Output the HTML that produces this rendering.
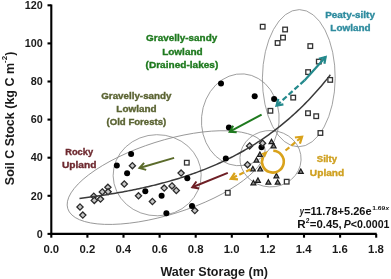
<!DOCTYPE html>
<html><head><meta charset="utf-8"><style>
html,body{margin:0;padding:0;background:#fff;width:391px;height:279px;overflow:hidden}
svg{display:block;will-change:transform}
text{font-family:"Liberation Sans",sans-serif}
</style></head><body>
<svg width="391" height="279" viewBox="0 0 391 279">
<rect width="391" height="279" fill="#fff"/>
<ellipse cx="166.1" cy="177.58" rx="103.12" ry="36.78" transform="rotate(-17.55 166.1 177.58)" fill="none" stroke="#8a8a8a" stroke-width="0.8"/>
<ellipse cx="157.16" cy="175.24" rx="44.03" ry="40.57" transform="rotate(-0.78 157.16 175.24)" fill="none" stroke="#8a8a8a" stroke-width="0.8"/>
<ellipse cx="240.3" cy="119.8" rx="46.0" ry="38.8" transform="rotate(-85.2 240.3 119.8)" fill="none" stroke="#8a8a8a" stroke-width="0.8"/>
<ellipse cx="270.5" cy="158.7" rx="30.6" ry="28.2" transform="rotate(2.5 270.5 158.7)" fill="none" stroke="#8a8a8a" stroke-width="0.8"/>
<ellipse cx="298.8" cy="78.2" rx="68.6" ry="36.4" transform="rotate(-89.5 298.8 78.2)" fill="none" stroke="#8a8a8a" stroke-width="0.8"/>
<polygon points="80.00,203.90 83.10,207.00 80.00,210.10 76.90,207.00" fill="#c8c8c8" stroke="#2a2a2a" stroke-width="1.3"/>
<polygon points="82.80,212.00 85.90,215.10 82.80,218.20 79.70,215.10" fill="#c8c8c8" stroke="#2a2a2a" stroke-width="1.3"/>
<polygon points="93.80,193.10 96.90,196.20 93.80,199.30 90.70,196.20" fill="#c8c8c8" stroke="#2a2a2a" stroke-width="1.3"/>
<polygon points="94.30,197.30 97.40,200.40 94.30,203.50 91.20,200.40" fill="#c8c8c8" stroke="#2a2a2a" stroke-width="1.3"/>
<polygon points="100.50,196.00 103.60,199.10 100.50,202.20 97.40,199.10" fill="#c8c8c8" stroke="#2a2a2a" stroke-width="1.3"/>
<polygon points="102.30,188.80 105.40,191.90 102.30,195.00 99.20,191.90" fill="#c8c8c8" stroke="#2a2a2a" stroke-width="1.3"/>
<polygon points="107.90,184.20 111.00,187.30 107.90,190.40 104.80,187.30" fill="#c8c8c8" stroke="#2a2a2a" stroke-width="1.3"/>
<polygon points="108.10,188.70 111.20,191.80 108.10,194.90 105.00,191.80" fill="#c8c8c8" stroke="#2a2a2a" stroke-width="1.3"/>
<polygon points="124.30,180.90 127.40,184.00 124.30,187.10 121.20,184.00" fill="#c8c8c8" stroke="#2a2a2a" stroke-width="1.3"/>
<polygon points="132.40,162.60 135.50,165.70 132.40,168.80 129.30,165.70" fill="#c8c8c8" stroke="#2a2a2a" stroke-width="1.3"/>
<polygon points="138.50,192.70 141.60,195.80 138.50,198.90 135.40,195.80" fill="#c8c8c8" stroke="#2a2a2a" stroke-width="1.3"/>
<polygon points="152.40,198.40 155.50,201.50 152.40,204.60 149.30,201.50" fill="#c8c8c8" stroke="#2a2a2a" stroke-width="1.3"/>
<polygon points="164.20,185.00 167.30,188.10 164.20,191.20 161.10,188.10" fill="#c8c8c8" stroke="#2a2a2a" stroke-width="1.3"/>
<polygon points="172.00,182.80 175.10,185.90 172.00,189.00 168.90,185.90" fill="#c8c8c8" stroke="#2a2a2a" stroke-width="1.3"/>
<polygon points="176.30,187.40 179.40,190.50 176.30,193.60 173.20,190.50" fill="#c8c8c8" stroke="#2a2a2a" stroke-width="1.3"/>
<polygon points="181.10,170.00 184.20,173.10 181.10,176.20 178.00,173.10" fill="#c8c8c8" stroke="#2a2a2a" stroke-width="1.3"/>
<polygon points="194.80,207.50 197.90,210.60 194.80,213.70 191.70,210.60" fill="#c8c8c8" stroke="#2a2a2a" stroke-width="1.3"/>
<polygon points="249.60,142.80 252.70,145.90 249.60,149.00 246.50,145.90" fill="#c8c8c8" stroke="#2a2a2a" stroke-width="1.3"/>
<polygon points="247.50,161.60 250.60,164.70 247.50,167.80 244.40,164.70" fill="#c8c8c8" stroke="#2a2a2a" stroke-width="1.3"/>
<polyline points="79.46,198.42 81.26,198.19 83.07,197.97 84.87,197.74 86.68,197.50 88.48,197.27 90.29,197.02 92.09,196.78 93.90,196.53 95.70,196.27 97.51,196.01 99.31,195.75 101.12,195.48 102.92,195.21 104.73,194.93 106.53,194.65 108.34,194.37 110.14,194.08 111.95,193.78 113.75,193.48 115.56,193.17 117.36,192.86 119.17,192.54 120.97,192.22 122.78,191.89 124.58,191.56 126.39,191.22 128.19,190.87 130.00,190.52 131.80,190.17 133.61,189.80 135.41,189.43 137.22,189.06 139.02,188.68 140.83,188.29 142.63,187.89 144.44,187.49 146.24,187.08 148.05,186.67 149.85,186.25 151.66,185.82 153.46,185.38 155.27,184.94 157.07,184.48 158.88,184.02 160.68,183.56 162.49,183.08 164.29,182.60 166.10,182.10 167.90,181.60 169.71,181.10 171.51,180.58 173.32,180.05 175.12,179.52 176.93,178.97 178.73,178.42 180.54,177.85 182.34,177.28 184.15,176.70 185.95,176.11 187.76,175.50 189.56,174.89 191.37,174.27 193.17,173.63 194.98,172.99 196.78,172.33 198.59,171.67 200.39,170.99 202.20,170.30 204.00,169.60 205.81,168.88 207.61,168.16 209.42,167.42 211.22,166.67 213.03,165.91 214.83,165.13 216.64,164.34 218.44,163.54 220.25,162.72 222.05,161.89 223.86,161.05 225.66,160.19 227.47,159.31 229.27,158.42 231.08,157.52 232.88,156.60 234.69,155.67 236.49,154.71 238.30,153.75 240.10,152.76 241.91,151.76 243.71,150.75 245.52,149.71 247.32,148.66 249.13,147.59 250.93,146.50 252.74,145.39 254.54,144.27 256.35,143.12 258.15,141.96 259.96,140.77 261.76,139.57 263.57,138.34 265.37,137.10 267.18,135.83 268.98,134.54 270.79,133.23 272.59,131.90 274.40,130.54 276.20,129.16 278.01,127.76 279.81,126.33 281.62,124.88 283.42,123.40 285.23,121.90 287.03,120.38 288.84,118.83 290.64,117.25 292.45,115.64 294.25,114.01 296.06,112.35 297.86,110.66 299.67,108.94 301.47,107.19 303.28,105.42 305.08,103.61 306.89,101.77 308.69,99.90 310.50,98.00 312.30,96.07 314.11,94.10 315.91,92.10 317.72,90.06 319.52,87.99 321.33,85.89 323.13,83.75 324.94,81.57 326.74,79.36 328.55,77.11 330.35,74.82" fill="none" stroke="#3a3a3a" stroke-width="1.5"/>
<rect x="260.40" y="24.40" width="4.6" height="4.6" fill="#fff" stroke="#333" stroke-width="1.3"/>
<rect x="282.80" y="27.20" width="4.6" height="4.6" fill="#fff" stroke="#333" stroke-width="1.3"/>
<rect x="280.70" y="35.30" width="4.6" height="4.6" fill="#fff" stroke="#333" stroke-width="1.3"/>
<rect x="275.30" y="40.70" width="4.6" height="4.6" fill="#fff" stroke="#333" stroke-width="1.3"/>
<rect x="308.00" y="43.80" width="4.6" height="4.6" fill="#fff" stroke="#333" stroke-width="1.3"/>
<rect x="316.50" y="59.30" width="4.6" height="4.6" fill="#fff" stroke="#333" stroke-width="1.3"/>
<rect x="305.80" y="69.80" width="4.6" height="4.6" fill="#fff" stroke="#333" stroke-width="1.3"/>
<rect x="327.90" y="77.60" width="4.6" height="4.6" fill="#fff" stroke="#333" stroke-width="1.3"/>
<rect x="290.90" y="95.30" width="4.6" height="4.6" fill="#fff" stroke="#333" stroke-width="1.3"/>
<rect x="268.10" y="108.50" width="4.6" height="4.6" fill="#fff" stroke="#333" stroke-width="1.3"/>
<rect x="305.70" y="110.90" width="4.6" height="4.6" fill="#fff" stroke="#333" stroke-width="1.3"/>
<rect x="313.90" y="113.90" width="4.6" height="4.6" fill="#fff" stroke="#333" stroke-width="1.3"/>
<rect x="318.10" y="130.70" width="4.6" height="4.6" fill="#fff" stroke="#333" stroke-width="1.3"/>
<rect x="184.50" y="160.40" width="4.6" height="4.6" fill="#fff" stroke="#333" stroke-width="1.3"/>
<rect x="225.50" y="190.50" width="4.6" height="4.6" fill="#fff" stroke="#333" stroke-width="1.3"/>
<rect x="284.40" y="179.40" width="4.6" height="4.6" fill="#fff" stroke="#333" stroke-width="1.3"/>
<polygon points="271.50,139.20 273.95,143.60 269.05,143.60" fill="#8c8c8c" stroke="#1a1a1a" stroke-width="1.2"/>
<polygon points="273.60,143.40 276.05,147.80 271.15,147.80" fill="#8c8c8c" stroke="#1a1a1a" stroke-width="1.2"/>
<polygon points="259.90,152.00 262.35,156.40 257.45,156.40" fill="#8c8c8c" stroke="#1a1a1a" stroke-width="1.2"/>
<polygon points="256.50,157.70 258.95,162.10 254.05,162.10" fill="#8c8c8c" stroke="#1a1a1a" stroke-width="1.2"/>
<polygon points="252.80,166.40 255.25,170.80 250.35,170.80" fill="#8c8c8c" stroke="#1a1a1a" stroke-width="1.2"/>
<polygon points="260.20,166.60 262.65,171.00 257.75,171.00" fill="#8c8c8c" stroke="#1a1a1a" stroke-width="1.2"/>
<polygon points="276.40,173.40 278.85,177.80 273.95,177.80" fill="#8c8c8c" stroke="#1a1a1a" stroke-width="1.2"/>
<polygon points="257.90,177.90 260.35,182.30 255.45,182.30" fill="#8c8c8c" stroke="#1a1a1a" stroke-width="1.2"/>
<polygon points="253.40,180.40 255.85,184.80 250.95,184.80" fill="#8c8c8c" stroke="#1a1a1a" stroke-width="1.2"/>
<polygon points="268.40,179.80 270.85,184.20 265.95,184.20" fill="#8c8c8c" stroke="#1a1a1a" stroke-width="1.2"/>
<polygon points="277.70,179.80 280.15,184.20 275.25,184.20" fill="#8c8c8c" stroke="#1a1a1a" stroke-width="1.2"/>
<polygon points="300.80,169.00 303.25,173.40 298.35,173.40" fill="#8c8c8c" stroke="#1a1a1a" stroke-width="1.2"/>
<circle cx="131.1" cy="154.1" r="3.0" fill="#000"/>
<circle cx="116.8" cy="165.5" r="3.0" fill="#000"/>
<circle cx="127.1" cy="173.2" r="3.0" fill="#000"/>
<circle cx="145.3" cy="191.2" r="3.0" fill="#000"/>
<circle cx="161.6" cy="195.8" r="3.0" fill="#000"/>
<circle cx="166.4" cy="213.3" r="3.0" fill="#000"/>
<circle cx="187.3" cy="178.2" r="3.0" fill="#000"/>
<circle cx="192.0" cy="206.0" r="3.0" fill="#000"/>
<circle cx="221.0" cy="83.5" r="3.0" fill="#000"/>
<circle cx="254.7" cy="96.2" r="3.0" fill="#000"/>
<circle cx="274.1" cy="99.0" r="3.0" fill="#000"/>
<circle cx="228.9" cy="127.4" r="3.0" fill="#000"/>
<circle cx="225.8" cy="158.5" r="3.0" fill="#000"/>
<circle cx="261.5" cy="147.2" r="3.0" fill="#000"/>
<polygon points="262.60,140.10 265.70,143.20 262.60,146.30 259.50,143.20" fill="#c8c8c8" stroke="#2a2a2a" stroke-width="1.3"/>
<path d="M273.28,150.81 A10.9,10.9 0 1 1 263.02,157.09" fill="none" stroke="#d9a21b" stroke-width="2.6"/>
<polygon points="267.8,150.9 261.4,153.2 264.9,157.8" fill="#d9a21b"/>
<line x1="174.1" y1="157.9" x2="139.44" y2="168.05" stroke="#5b6b2b" stroke-width="2.0"/>
<polyline points="144.1,162.8 139.44,168.05 146.2,169.9" fill="none" stroke="#5b6b2b" stroke-width="2.0" stroke-linejoin="miter"/>
<line x1="227.8" y1="172.9" x2="192.29" y2="187.2" stroke="#6e1f25" stroke-width="2.0"/>
<polyline points="196.4,181.5 192.29,187.2 199.2,188.4" fill="none" stroke="#6e1f25" stroke-width="2.0" stroke-linejoin="miter"/>
<line x1="261.6" y1="114.6" x2="229.71" y2="131.74" stroke="#1e7a1e" stroke-width="2.0"/>
<polyline points="233.2,125.7 229.71,131.74 236.7,132.2" fill="none" stroke="#1e7a1e" stroke-width="2.0" stroke-linejoin="miter"/>
<line x1="304.5" y1="80.4" x2="325.62" y2="56.91" stroke="#23898c" stroke-width="2.2"/>
<polyline points="324.4,63.8 325.62,56.91 318.9,58.8" fill="none" stroke="#23898c" stroke-width="2.2" stroke-linejoin="miter"/>
<line x1="304.5" y1="80.4" x2="276.51" y2="105.62" stroke="#23898c" stroke-width="2.2" stroke-dasharray="5.5,2.5"/>
<polyline points="278.4,98.9 276.51,105.62 283.4,104.4" fill="none" stroke="#23898c" stroke-width="2.2" stroke-linejoin="miter"/>
<line x1="285.5" y1="150.5" x2="302.08" y2="136.7" stroke="#d9a21b" stroke-width="2.2" stroke-dasharray="5,2.6"/>
<polyline points="299.9,143.6 302.08,136.7 294.9,137.5" fill="none" stroke="#d9a21b" stroke-width="2.2" stroke-linejoin="miter"/>
<line x1="250.6" y1="169.2" x2="230.83" y2="178.81" stroke="#d9a21b" stroke-width="2.2" stroke-dasharray="5,2.6"/>
<polyline points="234.8,172.8 230.83,178.81 238.0,179.4" fill="none" stroke="#d9a21b" stroke-width="2.2" stroke-linejoin="miter"/>
<g stroke="#000" stroke-width="2.1" fill="none">
<line x1="51.3" y1="4.5" x2="51.3" y2="234.8"/>
<line x1="50.4" y1="233.9" x2="376.70000000000005" y2="233.9"/>
<line x1="47.5" y1="233.90" x2="51.3" y2="233.90"/>
<line x1="47.5" y1="195.80" x2="51.3" y2="195.80"/>
<line x1="47.5" y1="157.70" x2="51.3" y2="157.70"/>
<line x1="47.5" y1="119.60" x2="51.3" y2="119.60"/>
<line x1="47.5" y1="81.50" x2="51.3" y2="81.50"/>
<line x1="47.5" y1="43.40" x2="51.3" y2="43.40"/>
<line x1="47.5" y1="5.30" x2="51.3" y2="5.30"/>
<line x1="51.30" y1="233.9" x2="51.30" y2="237.70000000000002"/>
<line x1="87.40" y1="233.9" x2="87.40" y2="237.70000000000002"/>
<line x1="123.50" y1="233.9" x2="123.50" y2="237.70000000000002"/>
<line x1="159.60" y1="233.9" x2="159.60" y2="237.70000000000002"/>
<line x1="195.70" y1="233.9" x2="195.70" y2="237.70000000000002"/>
<line x1="231.80" y1="233.9" x2="231.80" y2="237.70000000000002"/>
<line x1="267.90" y1="233.9" x2="267.90" y2="237.70000000000002"/>
<line x1="304.00" y1="233.9" x2="304.00" y2="237.70000000000002"/>
<line x1="340.10" y1="233.9" x2="340.10" y2="237.70000000000002"/>
<line x1="376.20" y1="233.9" x2="376.20" y2="237.70000000000002"/>
</g>
<text x="36.83" y="237.6" font-size="10.5" font-weight="bold" fill="#1a1a1a" textLength="6.01" lengthAdjust="spacingAndGlyphs">0</text>
<text x="30.83" y="199.5" font-size="10.5" font-weight="bold" fill="#1a1a1a" textLength="12.03" lengthAdjust="spacingAndGlyphs">20</text>
<text x="30.83" y="161.4" font-size="10.5" font-weight="bold" fill="#1a1a1a" textLength="12.03" lengthAdjust="spacingAndGlyphs">40</text>
<text x="30.83" y="123.3" font-size="10.5" font-weight="bold" fill="#1a1a1a" textLength="12.03" lengthAdjust="spacingAndGlyphs">60</text>
<text x="30.83" y="85.2" font-size="10.5" font-weight="bold" fill="#1a1a1a" textLength="12.03" lengthAdjust="spacingAndGlyphs">80</text>
<text x="24.83" y="47.1" font-size="10.5" font-weight="bold" fill="#1a1a1a" textLength="18.04" lengthAdjust="spacingAndGlyphs">100</text>
<text x="24.83" y="9.0" font-size="10.5" font-weight="bold" fill="#1a1a1a" textLength="18.04" lengthAdjust="spacingAndGlyphs">120</text>
<text x="43.42" y="252.6" font-size="10.5" font-weight="bold" fill="#1a1a1a" textLength="15.76" lengthAdjust="spacingAndGlyphs">0.0</text>
<text x="79.52" y="252.6" font-size="10.5" font-weight="bold" fill="#1a1a1a" textLength="15.76" lengthAdjust="spacingAndGlyphs">0.2</text>
<text x="115.42" y="252.6" font-size="10.5" font-weight="bold" fill="#1a1a1a" textLength="15.76" lengthAdjust="spacingAndGlyphs">0.4</text>
<text x="151.69" y="252.6" font-size="10.5" font-weight="bold" fill="#1a1a1a" textLength="15.76" lengthAdjust="spacingAndGlyphs">0.6</text>
<text x="187.76" y="252.6" font-size="10.5" font-weight="bold" fill="#1a1a1a" textLength="15.76" lengthAdjust="spacingAndGlyphs">0.8</text>
<text x="223.78" y="252.6" font-size="10.5" font-weight="bold" fill="#1a1a1a" textLength="15.76" lengthAdjust="spacingAndGlyphs">1.0</text>
<text x="259.88" y="252.6" font-size="10.5" font-weight="bold" fill="#1a1a1a" textLength="15.76" lengthAdjust="spacingAndGlyphs">1.2</text>
<text x="295.78" y="252.6" font-size="10.5" font-weight="bold" fill="#1a1a1a" textLength="15.76" lengthAdjust="spacingAndGlyphs">1.4</text>
<text x="332.05" y="252.6" font-size="10.5" font-weight="bold" fill="#1a1a1a" textLength="15.76" lengthAdjust="spacingAndGlyphs">1.6</text>
<text x="368.12" y="252.6" font-size="10.5" font-weight="bold" fill="#1a1a1a" textLength="15.76" lengthAdjust="spacingAndGlyphs">1.8</text>
<text x="160.40" y="275.6" font-size="12.5" font-weight="bold" fill="#1a1a1a" textLength="107.63" lengthAdjust="spacingAndGlyphs">Water Storage (m)</text>
<text transform="translate(14.2,118.4) rotate(-90)" font-size="12.5" font-weight="bold" fill="#1a1a1a" text-anchor="middle">Soil C Stock (kg C m<tspan dy="-6.8" font-size="8">-2</tspan><tspan dy="6.8">)</tspan></text>
<text x="299.70" y="214.7" font-size="10.2" font-weight="bold" font-style="italic" fill="#111" textLength="4.20" lengthAdjust="spacingAndGlyphs">y</text>
<text x="304.16" y="214.7" font-size="10.2" font-weight="bold" fill="#111" textLength="67.46" lengthAdjust="spacingAndGlyphs">=11.78+5.26e</text>
<text x="372.16" y="209.6" font-size="6" font-weight="bold" fill="#111" textLength="13.08" lengthAdjust="spacingAndGlyphs">1.69</text>
<text x="385.46" y="209.6" font-size="6" font-weight="bold" font-style="italic" fill="#111" textLength="3.62" lengthAdjust="spacingAndGlyphs">x</text>
<text x="297.24" y="228.3" font-size="10" font-weight="bold" fill="#111" textLength="8.42" lengthAdjust="spacingAndGlyphs">R</text>
<text x="305.66" y="223.2" font-size="6.5" font-weight="bold" fill="#111" textLength="3.82" lengthAdjust="spacingAndGlyphs">2</text>
<text x="309.74" y="228.3" font-size="10" font-weight="bold" fill="#111" textLength="32.03" lengthAdjust="spacingAndGlyphs">=0.45,</text>
<text x="343.79" y="228.3" font-size="10" font-weight="bold" font-style="italic" fill="#111" textLength="6.98" lengthAdjust="spacingAndGlyphs">P</text>
<text x="350.77" y="228.3" font-size="10" font-weight="bold" fill="#111" textLength="38.72" lengthAdjust="spacingAndGlyphs">&lt;0.0001</text>
<text x="146.10" y="41.0" font-size="9.2" font-weight="bold" fill="#1f7a1f" textLength="71.15" lengthAdjust="spacingAndGlyphs" stroke="#1f7a1f" stroke-width="0.35">Gravelly-sandy</text>
<text x="162.15" y="54.8" font-size="9.2" font-weight="bold" fill="#1f7a1f" textLength="40.50" lengthAdjust="spacingAndGlyphs" stroke="#1f7a1f" stroke-width="0.35">Lowland</text>
<text x="145.60" y="68.4" font-size="9.2" font-weight="bold" fill="#1f7a1f" textLength="72.70" lengthAdjust="spacingAndGlyphs" stroke="#1f7a1f" stroke-width="0.35">(Drained-lakes)</text>
<text x="101.21" y="98.5" font-size="9.2" font-weight="bold" fill="#5a6332" textLength="70.25" lengthAdjust="spacingAndGlyphs" stroke="#5a6332" stroke-width="0.35">Gravelly-sandy</text>
<text x="116.36" y="111.6" font-size="9.2" font-weight="bold" fill="#5a6332" textLength="40.19" lengthAdjust="spacingAndGlyphs" stroke="#5a6332" stroke-width="0.35">Lowland</text>
<text x="106.52" y="125.0" font-size="9.2" font-weight="bold" fill="#5a6332" textLength="59.74" lengthAdjust="spacingAndGlyphs" stroke="#5a6332" stroke-width="0.35">(Old Forests)</text>
<text x="65.20" y="154.9" font-size="9.2" font-weight="bold" fill="#6e2a30" textLength="27.86" lengthAdjust="spacingAndGlyphs" stroke="#6e2a30" stroke-width="0.35">Rocky</text>
<text x="61.99" y="168.4" font-size="9.2" font-weight="bold" fill="#6e2a30" textLength="34.46" lengthAdjust="spacingAndGlyphs" stroke="#6e2a30" stroke-width="0.35">Upland</text>
<text x="325.15" y="17.9" font-size="9.2" font-weight="bold" fill="#2f8c9f" textLength="49.82" lengthAdjust="spacingAndGlyphs" stroke="#2f8c9f" stroke-width="0.35">Peaty-silty</text>
<text x="330.36" y="31.4" font-size="9.2" font-weight="bold" fill="#2f8c9f" textLength="40.19" lengthAdjust="spacingAndGlyphs" stroke="#2f8c9f" stroke-width="0.35">Lowland</text>
<text x="316.81" y="162.2" font-size="9.2" font-weight="bold" fill="#cfa020" textLength="20.25" lengthAdjust="spacingAndGlyphs" stroke="#cfa020" stroke-width="0.35">Silty</text>
<text x="309.89" y="176.0" font-size="9.2" font-weight="bold" fill="#cfa020" textLength="34.35" lengthAdjust="spacingAndGlyphs" stroke="#cfa020" stroke-width="0.35">Upland</text>
</svg></body></html>
